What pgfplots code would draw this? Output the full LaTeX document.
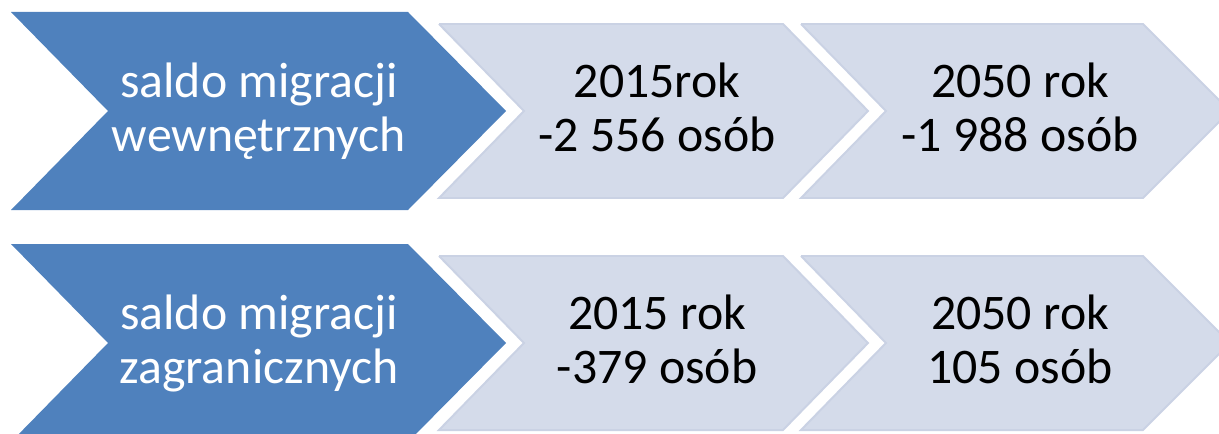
\documentclass[border=0pt]{standalone}
\usepackage{fontspec}
\setmainfont{Carlito}
\usepackage{pgfplots}
\pgfplotsset{compat=1.18}
\definecolor{chevdark}{HTML}{4F81BD}
\definecolor{chevlight}{HTML}{D4DBEA}
\definecolor{chevedge}{HTML}{CAD2E4}

\newcommand{\lbl}[4]{% x, y (baseline), colour, text
  \node[anchor=base, text=#3, inner sep=0pt,
        font=\fontsize{25}{27}\selectfont] at (axis cs:#1,#2) {#4};}

\begin{document}
\begin{tikzpicture}
\begin{axis}[
  scale only axis,
  width=609.5bp, height=217bp,
  xmin=0, xmax=1219, ymin=0, ymax=434,
  y dir=reverse,
  hide axis,
]
% keep the whole canvas in the bounding box
\path[draw=none] (rel axis cs:0,0) rectangle (rel axis cs:1,1);

% row 1: saldo migracji wewnetrznych
\addplot[fill=chevdark, draw=none] coordinates {
  (11,12) (408,12) (506,111) (408,210) (11,210) (108,111) (11,12)};
\addplot[fill=chevlight, draw=chevedge, line width=1pt] coordinates {
  (439,24) (783,24) (868,111) (783,198) (439,198) (524,111) (439,24)};
\addplot[fill=chevlight, draw=chevedge, line width=1pt] coordinates {
  (801,24) (1143,24) (1230,111) (1143,198) (801,198) (886,111) (801,24)};
% row 2: saldo migracji zagranicznych
\addplot[fill=chevdark, draw=none] coordinates {
  (11,244) (408,244) (506,343) (408,442) (11,442) (108,343) (11,244)};
\addplot[fill=chevlight, draw=chevedge, line width=1pt] coordinates {
  (439,256) (783,256) (868,343) (783,430) (439,430) (524,343) (439,256)};
\addplot[fill=chevlight, draw=chevedge, line width=1pt] coordinates {
  (801,256) (1143,256) (1230,343) (1143,430) (801,430) (886,343) (801,256)};

\lbl{259}{97}{white}{saldo migracji}
\lbl{259}{151}{white}{wewnętrznych}
\lbl{657}{97}{black}{2015rok}
\lbl{657}{151}{black}{-2 556 osób}
\lbl{1020}{97}{black}{2050 rok}
\lbl{1020}{151}{black}{-1 988 osób}

\lbl{259}{329}{white}{saldo migracji}
\lbl{259}{383}{white}{zagranicznych}
\lbl{657}{329}{black}{2015 rok}
\lbl{657}{383}{black}{-379 osób}
\lbl{1020}{329}{black}{2050 rok}
\lbl{1020}{383}{black}{105 osób}
\end{axis}
\end{tikzpicture}
\end{document}
